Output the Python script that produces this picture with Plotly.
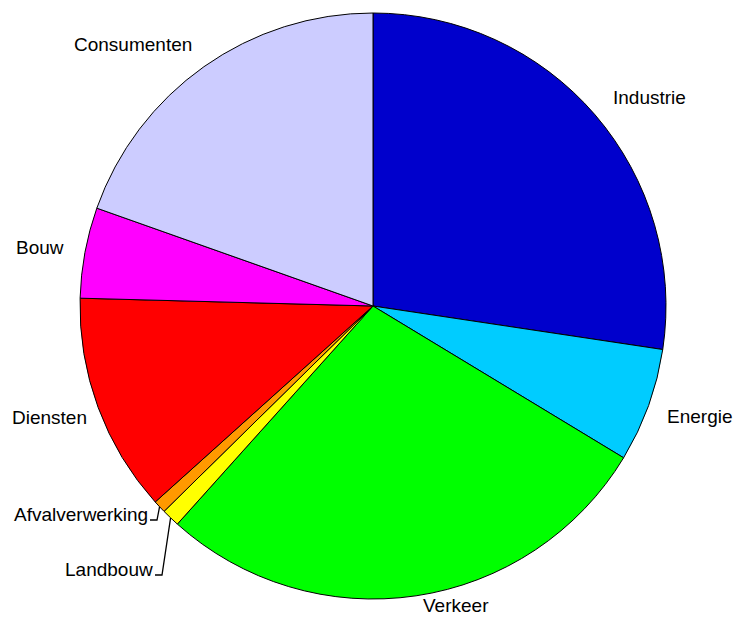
import math
import plotly.graph_objects as go

# Sector shares (percent), clockwise from 12 o'clock
sectors = ["Industrie", "Energie", "Verkeer", "Landbouw", "Afvalverwerking",
           "Diensten", "Bouw", "Consumenten"]
shares = [27.4, 6.3, 28.0, 1.0, 0.7, 12.1, 5.0, 19.6]
colors = ["#0000CC", "#00CCFF", "#00FF00", "#FFFF00", "#FF9900",
          "#FF0000", "#FF00FF", "#CCCCFF"]

W, H = 734, 617
# pie box in pixels: centre (373, 306), radius 293
CX, CY, R = 373, 306, 293

# label placement in pixels (x, y, anchor)
label_pos = {
    "Industrie": (614, 97, "left"),
    "Energie": (668, 416, "left"),
    "Verkeer": (456, 605, "center"),
    "Landbouw": (152, 569, "right"),
    "Afvalverwerking": (147, 514, "right"),
    "Diensten": (86, 417, "right"),
    "Bouw": (63, 247, "right"),
    "Consumenten": (191, 44, "right"),
}
# slices whose label is tied to the slice by a leader line
leader_labels = ["Landbouw", "Afvalverwerking"]


def px(x):
    return x / W


def py(y):
    return 1 - y / H


fig = go.Figure(go.Pie(
    labels=sectors,
    values=shares,
    sort=False,
    direction="clockwise",
    rotation=0,
    marker=dict(colors=colors, line=dict(color="black", width=1)),
    textinfo="none",
    hoverinfo="label+percent",
    showlegend=False,
    domain=dict(x=[px(CX - R), px(CX + R)], y=[py(CY + R), py(CY - R)]),
))

font = dict(family="Liberation Sans, Arial, sans-serif", size=19, color="black")
for name in sectors:
    x, y, anchor = label_pos[name]
    xs = x - 2 if anchor == "left" else (x + 2 if anchor == "right" else x)
    fig.add_annotation(x=px(xs), y=py(y), xref="paper", yref="paper",
                       text=name, showarrow=False, xanchor=anchor,
                       yanchor="middle", font=font, borderpad=0)

# elbow leader lines from slice edge to label
total = sum(shares)
cum = 0.0
mids = {}
for name, v in zip(sectors, shares):
    mids[name] = (cum + v / 2) / total * 2 * math.pi
    cum += v

for name in leader_labels:
    a = mids[name]
    sx, sy = CX + R * math.sin(a), CY - R * math.cos(a)
    lx, ly, _ = label_pos[name]
    ey = ly + 6
    path = (f"M {px(sx)},{py(sy)} L {px(lx + 10)},{py(ey)} "
            f"L {px(lx + 3)},{py(ey)}")
    fig.add_shape(type="path", path=path, xref="paper", yref="paper",
                  line=dict(color="black", width=1.3))

fig.update_layout(
    width=W, height=H,
    margin=dict(l=0, r=0, t=0, b=0),
    paper_bgcolor="white", plot_bgcolor="white",
)

fig.write_html("out.html")
